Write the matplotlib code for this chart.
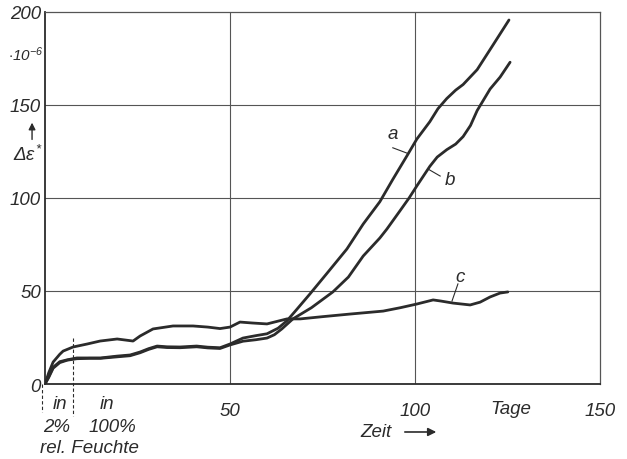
import matplotlib
matplotlib.use("Agg")
import matplotlib.pyplot as plt

plt.rcParams['font.family'] = ['Liberation Sans', 'DejaVu Sans']
plt.rcParams['font.style'] = 'italic'
plt.rcParams['mathtext.fontset'] = 'custom'
plt.rcParams['mathtext.rm'] = 'Liberation Sans:italic'
plt.rcParams['mathtext.it'] = 'Liberation Sans:italic'

# ---- data ----
a_x = [0, 1, 2.2, 4, 6, 8.6, 12, 15, 19.5, 23, 25.7, 28, 30.3, 33, 36.5, 41, 44, 47.3,
       50, 53.5, 57, 60, 63, 65.4, 68, 71.6, 76, 81.6, 86, 90.5, 94, 97.8, 100.5, 104,
       106.2, 108.6, 111, 113, 116.8, 121, 125.4]
a_y = [0, 4, 9, 12, 13, 14, 14, 14, 15, 15.6, 17.2, 19, 20.4, 20, 19.9, 20.4, 19.8, 19.5,
       21.5, 24.7, 26, 27, 30, 34, 40, 48.4, 59, 72.6, 86, 98, 110, 122.6, 131.7, 141,
       148, 153.5, 158, 161, 169, 182, 195.7]

b_x = [0, 1, 2.2, 4, 6, 8.6, 12, 15, 19.5, 23, 25.7, 28, 30.3, 33, 36.5, 41, 44, 47.3,
       50, 53.5, 57, 60, 62, 64, 67, 72, 77.8, 82, 86, 90.5, 92.4, 95.9, 98.4, 100.5,
       104, 106, 108.6, 111, 113, 115, 116.8, 120.3, 123, 125.7]
b_y = [0, 3.5, 8.5, 11.5, 12.8, 13.6, 13.8, 13.8, 14.6, 15.2, 16.8, 18.6, 20, 19.6, 19.5,
       20, 19.4, 19.1, 21, 23, 23.8, 24.7, 26.5, 29.6, 35, 41, 49.5, 57.5, 68.8, 78.5,
       83.3, 93, 100, 106.5, 117, 122, 126, 129, 133, 139, 147, 158.6, 165, 173]

c_x = [0, 1, 2.2, 4, 4.9, 7.6, 11.4, 14.9, 19.5, 23.8, 25.7, 29.2, 34.6, 40, 44, 47.3,
       50, 52.7, 56, 60, 65.4, 69, 75, 82.4, 91.4, 96, 100.5, 104.9, 107, 110.3, 114.9,
       117.6, 120.3, 123, 125.1]
c_y = [0, 6, 11.8, 16, 17.7, 19.9, 21.5, 23.1, 24.2, 23.1, 25.8, 29.6, 31.2, 31.2, 30.6,
       29.8, 30.6, 33.3, 32.8, 32.3, 35, 35, 36.2, 37.6, 39.2, 41, 43, 45.2, 44.6, 43.5,
       42.5, 44, 46.8, 48.9, 49.5]

x_ticks = [50, 100, 150]
y_ticks = [0, 50, 100, 150, 200]

ink = '#2b2b2b'
fs = 13.5

fig = plt.figure(figsize=(6.27, 4.60), dpi=100)
ax = fig.add_axes([45/627, 1-385/460, (600-45)/627, (385-13)/460])
ax.set_xlim(0, 150)
ax.set_ylim(0, 200)

# grid
for gx in [50, 100]:
    ax.axvline(gx, color='#555555', lw=0.8, zorder=1)
for gy in [50, 100, 150]:
    ax.axhline(gy, color='#555555', lw=0.8, zorder=1)

for s in ['left', 'bottom']:
    ax.spines[s].set_linewidth(1.3)
    ax.spines[s].set_color(ink)
for s in ['top', 'right']:
    ax.spines[s].set_linewidth(0.9)
    ax.spines[s].set_color('#555555')

for xs, ys in [(a_x, a_y), (b_x, b_y), (c_x, c_y)]:
    ax.plot(xs, ys, color=ink, lw=2.0, solid_joinstyle='round', solid_capstyle='round', zorder=3)

ax.set_xticks(x_ticks)
ax.set_xticklabels([str(v) for v in x_ticks])
ax.set_yticks(y_ticks)
ax.set_yticklabels([str(v) for v in y_ticks])
ax.tick_params(axis='both', length=0, labelsize=fs, colors=ink)
ax.tick_params(axis='x', pad=13)
ax.tick_params(axis='y', pad=3)

# curve labels with leader lines
ax.text(94, 134.5, 'a', fontsize=fs, color=ink, ha='center', va='center')
ax.plot([94, 98], [127, 124], color=ink, lw=0.8)
ax.text(109.5, 110, 'b', fontsize=fs, color=ink, ha='center', va='center')
ax.plot([106.8, 103.5], [111.8, 115.6], color=ink, lw=0.8)
ax.text(112.2, 58, 'c', fontsize=fs, color=ink, ha='center', va='center')
ax.plot([111.6, 110], [53.8, 44.6], color=ink, lw=0.8)

# y-axis annotations
fig.text(8/627, 1 - 55/460, r'$\cdot 10^{-6}$', fontsize=11, color=ink, ha='left', va='center')
ax.annotate('', xy=(-3.5, 142), xytext=(-3.5, 130), xycoords='data',
            arrowprops=dict(arrowstyle='-|>', color=ink, lw=1.0, mutation_scale=10),
            annotation_clip=False)
ax.text(-0.8, 123.7, r'$\Delta\varepsilon^{*}$', fontsize=fs, color=ink, ha='right', va='center', clip_on=False)

# x-axis annotations
ax.text(126, -13.4, 'Tage', fontsize=fs, color=ink, ha='center', va='center', clip_on=False)
ax.text(89.5, -25.8, 'Zeit', fontsize=fs, color=ink, ha='center', va='center', clip_on=False)
ax.annotate('', xy=(106.5, -25.8), xytext=(96.5, -25.8), xycoords='data',
            arrowprops=dict(arrowstyle='-|>', color=ink, lw=1.2, mutation_scale=12),
            annotation_clip=False)

# humidity annotations
ax.plot([-0.8, -0.8], [0, -15], color=ink, lw=0.8, ls=(0, (3, 2)), clip_on=False)
ax.plot([7.6, 7.6], [25, -17.2], color=ink, lw=0.8, ls=(0, (3, 2)), clip_on=False)
ax.text(4.05, -10.75, 'in', fontsize=fs, color=ink, ha='center', va='center', clip_on=False)
ax.text(3.2, -23.1, '2%', fontsize=fs, color=ink, ha='center', va='center', clip_on=False)
ax.text(16.8, -10.75, 'in', fontsize=fs, color=ink, ha='center', va='center', clip_on=False)
ax.text(18.1, -23.1, '100%', fontsize=fs, color=ink, ha='center', va='center', clip_on=False)
ax.text(11.9, -33.9, 'rel. Feuchte', fontsize=fs, color=ink, ha='center', va='center', clip_on=False)

fig.savefig('out.png', dpi=100)
